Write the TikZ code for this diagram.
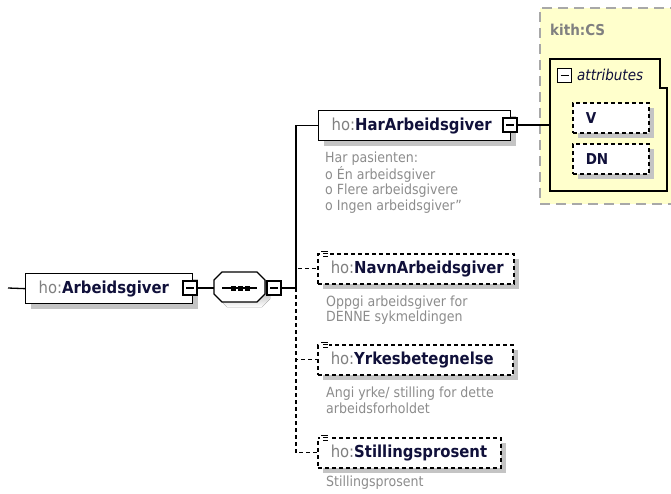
\documentclass[tikz,border=0pt]{standalone}
\usepackage{fontspec}
\setmainfont{DejaVu Sans Condensed}
\usetikzlibrary{shadows}
\definecolor{prefix}{HTML}{808080}
\definecolor{navy}{HTML}{10103A}
\definecolor{desc}{HTML}{8C8C8C}
\definecolor{kithyellow}{HTML}{FFFFCC}
\definecolor{kithborder}{HTML}{A8A8A8}
\definecolor{shade}{HTML}{C4C4C4}
\tikzset{
  conn/.style={line width=1.3pt, black},
  shad/.style={general shadow={fill=shade, draw=none, solid, shadow xshift=5pt, shadow yshift=-5pt}},
  elem/.style={draw, line width=1.3pt, fill=white, shad, minimum height=30pt, inner xsep=13pt, inner ysep=0pt,
    anchor=north west, font=\fontsize{16.5}{19}\selectfont, align=left},
  optelem/.style={elem, line width=1.5pt, dash pattern=on 4pt off 3pt},
  minusbox/.style={draw, solid, line width=1.1pt, fill=white, minimum size=14pt, inner sep=0pt,
    path picture={\draw[line width=1.1pt] ([xshift=3pt]path picture bounding box.west) -- ([xshift=-3pt]path picture bounding box.east);}},
  desctext/.style={anchor=base west, inner sep=0pt, align=left, text=desc, font=\fontsize{14}{15.3}\selectfont},
  icon/.style={line width=0.9pt},
}
\newcommand{\elname}[1]{\textcolor{prefix}{ho:}\textbf{\textcolor{navy}{#1}}}
\begin{document}
\begin{tikzpicture}[x=1pt,y=-1pt]
\useasboundingbox (0,0) rectangle (671,493);
% kith:CS complex type box
\fill[kithyellow] (540,8) rectangle (680,204);
\draw[kithborder, line width=2pt, dash pattern=on 10pt off 6pt] (680,8) -- (540,8) -- (540,204) -- (680,204);
\node[anchor=base west, inner sep=0pt, text=prefix, font=\fontsize{15}{16}\selectfont\bfseries] (kith) at (550,35) {kith:CS};
% attributes group
\draw[line width=1.3pt] (550,59) -- (660,59) -- (660,88) -- (667,88) -- (667,191) -- (550,191) -- cycle;
\coordinate (attrL) at (550,125);
\node[minusbox] (mattr) at (564.5,75.5) {};
\node[anchor=base west, inner sep=0pt, text=navy, font=\fontsize{15}{16}\selectfont\itshape] (attrtxt) at (577,80) {attributes};
\node[optelem, minimum width=76pt, text width=50pt, font=\fontsize{15}{16}\selectfont\bfseries, text=navy] (V) at (572,102) {V};
\node[optelem, minimum width=76pt, text width=50pt, font=\fontsize{15}{16}\selectfont\bfseries, text=navy] (DN) at (572,143) {DN};
% root element
\node[elem, minimum width=167pt, text width=141pt] (arb) at (25,273) {\elname{Arbeidsgiver}};
\coordinate (start) at (8,288);
\node[minusbox] (marb) at (190,288) {};
\draw[conn] (start) -- (arb.west);
% sequence compositor
\fill[shade] (219,277) -- (227,277) -- (262,277) -- (270,285) -- (270,299) -- (262,307) -- (227,307) -- (219,299) -- cycle;
\draw[line width=1.3pt, fill=white] (214,280) -- (222,272) -- (257,272) -- (265,280) -- (265,294) -- (257,302) -- (222,302) -- (214,294) -- cycle;
\coordinate (seqL) at (214,288);
\coordinate (seqR) at (265,288);
\draw[line width=1.2pt] (222,288) -- (257,288);
\foreach \d in {233,240,247} \fill (\d-2.5,285.5) rectangle (\d+2.5,290.5);
\node[minusbox] (mseq) at (274,288) {};
\coordinate (j) at (296,288);
\draw[conn] (marb.east) -- (seqL);
% children
\node[elem, minimum width=192pt, text width=166pt] (har) at (318,110) {\elname{HarArbeidsgiver}};
\node[minusbox] (mhar) at (510,125) {};
\node[optelem, minimum width=196pt, text width=170pt] (navn) at (317,253) {\elname{NavnArbeidsgiver}};
\node[optelem, minimum width=195pt, text width=169pt] (yrk) at (317,344) {\elname{Yrkesbetegnelse}};
\node[optelem, minimum width=183pt, text width=157pt] (still) at (317,437) {\elname{Stillingsprosent}};
% connectors
\draw[conn] (mseq.east) -- (j) |- (har.west);
\draw[conn, dash pattern=on 4pt off 3pt] (j) |- (navn.west);
\draw[conn, dash pattern=on 4pt off 3pt] (j) |- (yrk.west);
\draw[conn, dash pattern=on 4pt off 3pt] (j) |- (still.west);
\draw[conn] (mhar.east) -- (attrL);
% simple-type icons
\foreach \n in {navn,yrk,still} {
  \fill[white] ([xshift=3pt,yshift=3pt]\n.north west) rectangle ([xshift=12pt,yshift=-6pt]\n.north west);
  \draw[icon] ([xshift=4pt,yshift=2pt]\n.north west) -- ([xshift=11pt,yshift=2pt]\n.north west);
  \draw[icon] ([xshift=6pt,yshift=-0.5pt]\n.north west) -- ([xshift=11pt,yshift=-0.5pt]\n.north west);
  \draw[icon] ([xshift=6pt,yshift=-3pt]\n.north west) -- ([xshift=11pt,yshift=-3pt]\n.north west);
}
% annotations (anchored at the baseline of their last line)
\node[desctext] (dhar) at (325,210) {Har pasienten:\\o Én arbeidsgiver\\o Flere arbeidsgivere\\o Ingen arbeidsgiver"};
\node[desctext] (dnavn) at (326,321.5) {Oppgi arbeidsgiver for\\DENNE sykmeldingen};
\node[desctext] (dyrk) at (326,413) {Angi yrke/ stilling for dette\\arbeidsforholdet};
\node[desctext] (dstill) at (326,486.5) {Stillingsprosent};
\end{tikzpicture}
\end{document}
